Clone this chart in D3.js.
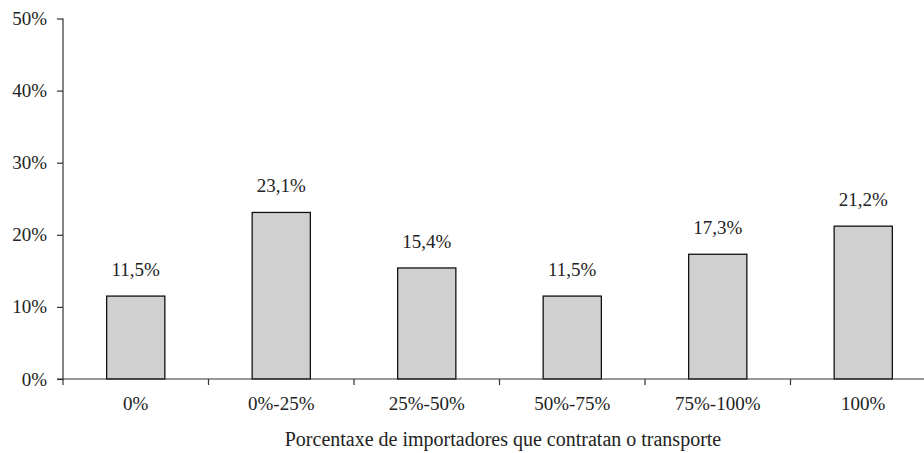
<!DOCTYPE html>
<html>
<head>
<meta charset="utf-8">
<script src="https://cdnjs.cloudflare.com/ajax/libs/d3/7.8.5/d3.min.js"></script>
<style>
  body { margin: 0; background: #fff; }
  text { font-family: "Liberation Serif", "Times New Roman", serif; fill: #222; }
</style>
</head>
<body>
<script>
// chart data
var categories = ["0%", "0%-25%", "25%-50%", "50%-75%", "75%-100%", "100%"];
var values = [11.5, 23.1, 15.4, 11.5, 17.3, 21.2];
var valueLabels = ["11,5%", "23,1%", "15,4%", "11,5%", "17,3%", "21,2%"];
var yTicks = [0, 10, 20, 30, 40, 50];
var xTitle = "Porcentaxe de importadores que contratan o transporte";

// plot area (right edge runs past the picture, as in the original)
var width = 924;
var height = 453;
var plotLeft = 63, plotRight = 936, plotTop = 18.5, plotBottom = 379;
var fontSize = 19;

var svg = d3.select("body")
            .append("svg")
            .attr("width", width)
            .attr("height", height);

var x = d3.scaleBand()
          .domain(categories)
          .range([plotLeft, plotRight])
          .paddingInner(0.6)
          .paddingOuter(0.3);

var y = d3.scaleLinear()
          .domain([0, 50])
          .range([plotBottom, plotTop]);

// bars
svg.selectAll("rect.bar")
   .data(values)
   .enter().append("rect")
   .attr("class", "bar")
   .attr("x", function(d, i) { return x(categories[i]); })
   .attr("y", function(d) { return y(d); })
   .attr("width", x.bandwidth())
   .attr("height", function(d) { return y(0) - y(d); })
   .attr("fill", "#d0d0d0")
   .attr("stroke", "#111")
   .attr("stroke-width", 1.3);

// value labels
svg.selectAll("text.val")
   .data(values)
   .enter().append("text")
   .attr("class", "val")
   .attr("x", function(d, i) { return x(categories[i]) + x.bandwidth() / 2; })
   .attr("y", function(d) { return y(d) - 20; })
   .attr("text-anchor", "middle")
   .attr("font-size", fontSize)
   .text(function(d, i) { return valueLabels[i]; });

// y axis
var yAxis = d3.axisLeft(y)
              .tickValues(yTicks)
              .tickSize(6)
              .tickPadding(10)
              .tickFormat(function(d) { return d + "%"; });

var gy = svg.append("g")
            .attr("transform", "translate(" + plotLeft + ",0)")
            .call(yAxis);
gy.select(".domain").attr("stroke", "#333").attr("stroke-width", 1.2)
  .attr("d", "M0," + plotTop + "V" + plotBottom);
gy.selectAll(".tick line").attr("stroke", "#333").attr("stroke-width", 1.2);
gy.selectAll(".tick text").attr("font-size", fontSize).attr("fill", "#222")
  .attr("font-family", "Liberation Serif");

// x axis: ticks at band boundaries
var boundaries = d3.range(0, categories.length).map(function(i) {
  return plotLeft + i * x.step();
});

svg.append("line")
   .attr("x1", plotLeft - 6).attr("x2", plotRight)
   .attr("y1", plotBottom).attr("y2", plotBottom)
   .attr("stroke", "#333").attr("stroke-width", 1.2);

svg.selectAll("line.xtick")
   .data(boundaries)
   .enter().append("line")
   .attr("class", "xtick")
   .attr("x1", function(d) { return d; }).attr("x2", function(d) { return d; })
   .attr("y1", plotBottom).attr("y2", plotBottom + 6)
   .attr("stroke", "#333").attr("stroke-width", 1.2);

svg.selectAll("text.cat")
   .data(categories)
   .enter().append("text")
   .attr("class", "cat")
   .attr("x", function(d) { return x(d) + x.bandwidth() / 2; })
   .attr("y", 410)
   .attr("text-anchor", "middle")
   .attr("font-size", fontSize)
   .text(function(d) { return d; });

// axis title
svg.append("text")
   .attr("x", 503)
   .attr("y", 446)
   .attr("text-anchor", "middle")
   .attr("font-size", 20)
   .text(xTitle);
</script>
</body>
</html>
